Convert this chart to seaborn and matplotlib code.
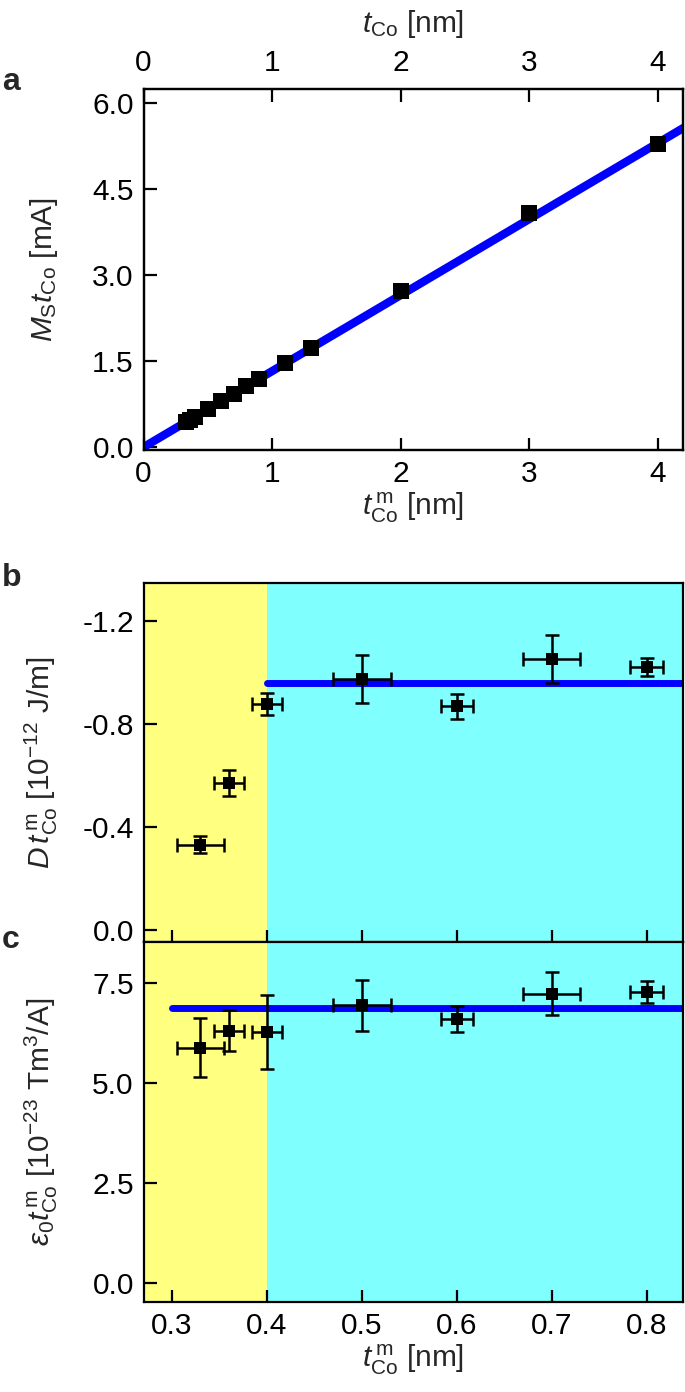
import numpy as np
import pandas as pd
import matplotlib
matplotlib.use("Agg")
import matplotlib.pyplot as plt
import seaborn as sns

# ---------------- data ----------------
# panel a
a_x = [0.33, 0.36, 0.40, 0.50, 0.60, 0.70, 0.80, 0.90, 1.10, 1.30, 2.00, 3.00, 4.00]
a_y = [0.44, 0.48, 0.53, 0.66, 0.80, 0.93, 1.06, 1.19, 1.47, 1.72, 2.72, 4.08, 5.28]
a_fit_x = [0.0, 4.2]
a_fit_y = [0.0, 5.565]

# panel b
b_x = [0.33, 0.36, 0.40, 0.50, 0.60, 0.70, 0.80]
b_y = [-0.331, -0.571, -0.879, -0.975, -0.869, -1.053, -1.023]
b_yerr = [0.034, 0.050, 0.043, 0.093, 0.049, 0.093, 0.034]
b_xerr = [0.025, 0.0155, 0.0155, 0.0305, 0.0165, 0.030, 0.0175]
b_fit_x = [0.40, 0.84]
b_fit_y = [-0.96, -0.96]

# panel c
c_x = [0.33, 0.36, 0.40, 0.50, 0.60, 0.70, 0.80]
c_y = [5.88, 6.30, 6.27, 6.94, 6.59, 7.23, 7.27]
c_yerr = [0.73, 0.51, 0.92, 0.64, 0.33, 0.54, 0.27]
c_xerr = [0.025, 0.0155, 0.0155, 0.0305, 0.0165, 0.030, 0.0175]
c_fit_x = [0.30, 0.84]
c_fit_y = [6.86, 6.86]

a_xticks = [0, 1, 2, 3, 4]
a_yticks = [0.0, 1.5, 3.0, 4.5, 6.0]
b_yticks = [0.0, -0.4, -0.8, -1.2]
c_yticks = [0.0, 2.5, 5.0, 7.5]
bc_xticks = [0.3, 0.4, 0.5, 0.6, 0.7, 0.8]

# ---------------- style ----------------
sns.set_style("ticks")
plt.rcParams['font.family'] = ['Liberation Sans', 'DejaVu Sans']
plt.rcParams['mathtext.fontset'] = 'custom'
plt.rcParams['mathtext.rm'] = 'Liberation Sans'
plt.rcParams['mathtext.it'] = 'Liberation Sans:italic'
plt.rcParams['mathtext.bf'] = 'Liberation Sans:bold'
plt.rcParams['axes.unicode_minus'] = False

FS = 21.5
BLUE = '#0000FF'
YEL = '#FFFF80'
CYA = '#80FFFF'

fig = plt.figure(figsize=(6.85, 13.92), dpi=100)
L, R = 0.2095, 0.997
axa = fig.add_axes([L, 0.6767, R - L, 0.936 - 0.6767])
axb = fig.add_axes([L, 0.3233, R - L, 0.5812 - 0.3233])
axc = fig.add_axes([L, 0.0647, R - L, 0.3233 - 0.0647])


def style_axis(ax):
    for s in ax.spines.values():
        s.set_linewidth(1.6)
        s.set_color('black')
    ax.tick_params(direction='in', length=9, width=1.6, labelsize=FS, pad=7,
                   colors='black')


# ---------------- panel a ----------------
dfa = pd.DataFrame({'x': a_x, 'y': a_y})
dfa_fit = pd.DataFrame({'x': a_fit_x, 'y': a_fit_y})
sns.lineplot(data=dfa_fit, x='x', y='y', ax=axa, color=BLUE, lw=6, zorder=2)
axa.errorbar(a_x, a_y, xerr=0.035, yerr=0.07, fmt='none', ecolor='black',
             elinewidth=2.2, capsize=3.5, capthick=2.2, zorder=3)
sns.scatterplot(data=dfa, x='x', y='y', ax=axa, marker='s', s=120, color='black',
                edgecolor='black', linewidth=0, zorder=4)
axa.set_xlim(0, 4.195)
axa.set_ylim(-0.05, 6.24)
axa.set_xticks(a_xticks)
axa.set_yticks(a_yticks)
axa.set_yticklabels([f"{v:.1f}" for v in a_yticks])
axa.set_xlabel(r"$t_\mathrm{Co}^{\,\mathrm{m}}$ [nm]", fontsize=FS, labelpad=2)
axa.set_ylabel(r"$M_\mathrm{S}t_\mathrm{Co}$ [mA]", fontsize=FS)
style_axis(axa)
axt = axa.twiny()
axt.set_xlim(axa.get_xlim())
axt.set_xticks(a_xticks)
axt.set_xlabel(r"$t_\mathrm{Co}$ [nm]", fontsize=FS, labelpad=12)
style_axis(axt)
axt.tick_params(pad=9)

# ---------------- panel b ----------------
for ax in (axb, axc):
    ax.axvspan(0.2, 0.4, color=YEL, lw=0, zorder=0)
    ax.axvspan(0.4, 0.9, color=CYA, lw=0, zorder=0)

dfb = pd.DataFrame({'x': b_x, 'y': b_y})
dfb_fit = pd.DataFrame({'x': b_fit_x, 'y': b_fit_y})
sns.lineplot(data=dfb_fit, x='x', y='y', ax=axb, color=BLUE, lw=5,
             solid_capstyle='round', zorder=2)
axb.errorbar(b_x, b_y, xerr=b_xerr, yerr=b_yerr, fmt='none', ecolor='black',
             elinewidth=1.8, capsize=5, capthick=1.8, zorder=3)
sns.scatterplot(data=dfb, x='x', y='y', ax=axb, marker='s', s=70, color='black',
                edgecolor='black', linewidth=0, zorder=4)
axb.set_xlim(0.270, 0.838)
axb.set_ylim(0.048, -1.35)
axb.set_xticks(bc_xticks)
axb.set_xticklabels([])
axb.set_yticks(b_yticks)
axb.set_yticklabels([f"{v:.1f}" for v in b_yticks])
axb.set_xlabel("")
axb.set_ylabel(r"$D\,t_\mathrm{Co}^{\,\mathrm{m}}$ [10$^{-12}$ J/m]", fontsize=FS)
style_axis(axb)

# ---------------- panel c ----------------
dfc = pd.DataFrame({'x': c_x, 'y': c_y})
dfc_fit = pd.DataFrame({'x': c_fit_x, 'y': c_fit_y})
sns.lineplot(data=dfc_fit, x='x', y='y', ax=axc, color=BLUE, lw=5,
             solid_capstyle='round', zorder=2)
axc.errorbar(c_x, c_y, xerr=c_xerr, yerr=c_yerr, fmt='none', ecolor='black',
             elinewidth=1.8, capsize=5, capthick=1.8, zorder=3)
sns.scatterplot(data=dfc, x='x', y='y', ax=axc, marker='s', s=70, color='black',
                edgecolor='black', linewidth=0, zorder=4)
axc.set_xlim(0.270, 0.838)
axc.set_ylim(-0.475, 8.52)
axc.set_xticks(bc_xticks)
axc.set_xticklabels([f"{v:.1f}" for v in bc_xticks])
axc.set_yticks(c_yticks)
axc.set_yticklabels([f"{v:.1f}" for v in c_yticks])
axc.set_xlabel(r"$t_\mathrm{Co}^{\,\mathrm{m}}$ [nm]", fontsize=FS, labelpad=2)
axc.set_ylabel(r"$\varepsilon_0 t_\mathrm{Co}^{\,\mathrm{m}}$ [10$^{-23}$ Tm$^3$/A]", fontsize=FS)
style_axis(axc)

for ax in (axa, axb, axc):
    ax.yaxis.set_label_coords(-0.155, 0.5)

fig.text(0.003, 1 - 82 / 1392, "a", fontsize=23, fontweight='bold', va='center')
fig.text(0.003, 1 - 578 / 1392, "b", fontsize=23, fontweight='bold', va='center')
fig.text(0.003, 1 - 940 / 1392, "c", fontsize=23, fontweight='bold', va='center')

fig.savefig("out.png", dpi=100)
